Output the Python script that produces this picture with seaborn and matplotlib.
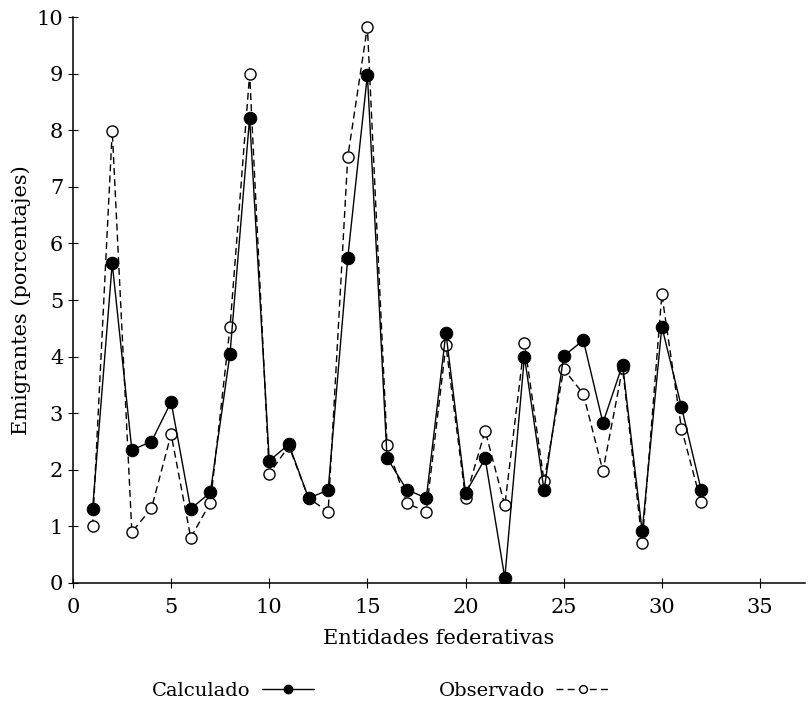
import matplotlib
matplotlib.use("Agg")
import matplotlib.pyplot as plt
import seaborn as sns
import numpy as np

entidades = list(range(1, 33))
calculado = [1.31, 5.65, 2.35, 2.50, 3.20, 1.31, 1.60, 4.05, 8.22, 2.16,
             2.45, 1.50, 1.64, 5.75, 8.98, 2.21, 1.65, 1.50, 4.42, 1.59,
             2.20, 0.09, 4.00, 1.64, 4.01, 4.29, 2.83, 3.86, 0.91, 4.53,
             3.11, 1.65]
observado = [1.00, 7.99, 0.90, 1.32, 2.63, 0.80, 1.42, 4.52, 8.99, 1.93,
             2.42, 1.50, 1.26, 7.53, 9.83, 2.44, 1.41, 1.26, 4.20, 1.50,
             2.69, 1.37, 4.24, 1.80, 3.78, 3.34, 1.98, 3.80, 0.71, 5.10,
             2.73, 1.43]
xticks = [0, 5, 10, 15, 20, 25, 30, 35]
yticks = list(range(0, 11))

sns.set_theme(style="white")
plt.rcParams['font.family'] = ['DejaVu Serif']
plt.rcParams['text.color'] = 'black'

fig = plt.figure(figsize=(8.09, 7.03), dpi=100)
ax = fig.add_axes([0.0902, 0.1707, 0.905, 0.805])

sns.lineplot(x=entidades, y=observado, ax=ax, color="black", linestyle=(0, (5, 3)),
             linewidth=1.0, marker="o", markersize=8, markerfacecolor="white",
             markeredgecolor="black", markeredgewidth=1.0, label="Observado")
sns.lineplot(x=entidades, y=calculado, ax=ax, color="black", linestyle="-",
             linewidth=1.0, marker="o", markersize=9, markerfacecolor="black",
             markeredgecolor="black", label="Calculado")

ax.set_xlim(0, 37.3)
ax.set_ylim(0, 10)
ax.set_xticks(xticks)
ax.set_yticks(yticks)
ax.tick_params(axis="both", direction="inout", length=7, width=0.8,
               labelsize=15, colors="black", bottom=True, left=True)
ax.tick_params(axis="x", pad=7)
for s in ["top", "right"]:
    ax.spines[s].set_visible(False)
for s in ["left", "bottom"]:
    ax.spines[s].set_color("black")
    ax.spines[s].set_linewidth(1.1)
ax.set_xlabel("Entidades federativas", fontsize=15, color="black", labelpad=9)
ax.set_ylabel("Emigrantes (porcentajes)", fontsize=15, color="black", labelpad=4)

handles, labels = ax.get_legend_handles_labels()
ax.get_legend().remove()
order = [labels.index("Calculado"), labels.index("Observado")]
leg = fig.legend([handles[i] for i in order], [labels[i] for i in order],
                 loc="lower center", bbox_to_anchor=(0.47, -0.02), ncol=2,
                 frameon=False, markerfirst=False, fontsize=14,
                 columnspacing=6.4, handlelength=2.7, handletextpad=0.6,
                 markerscale=0.7, labelcolor="black")

fig.savefig("out.png", dpi=100)
